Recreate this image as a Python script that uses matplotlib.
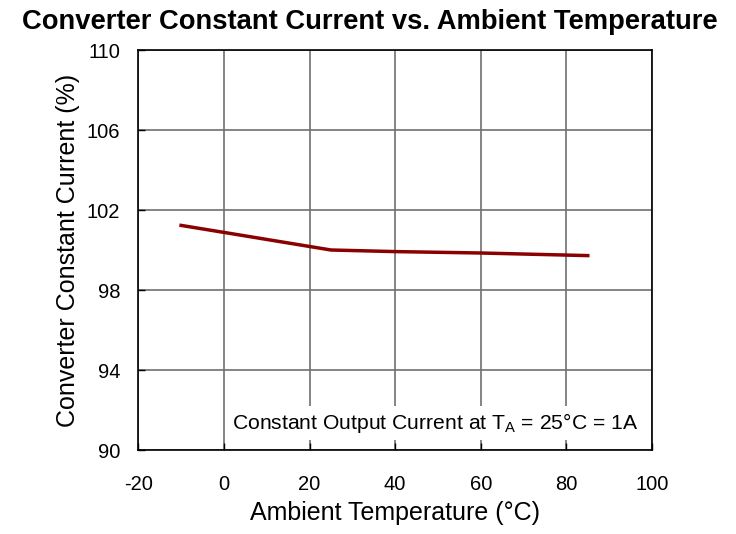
import matplotlib
matplotlib.use("Agg")
import matplotlib.pyplot as plt

temps = [-10, 0, 25, 40, 60, 85]
current = [101.23, 100.88, 100.0, 99.92, 99.85, 99.72]
xticks = [-20, 0, 20, 40, 60, 80, 100]
xticklabels = ['-20', '0', '20', '40', '60', '80', '100']
yticks = [90, 94, 98, 102, 106, 110]

plt.rcParams['font.family'] = ['Liberation Sans', 'DejaVu Sans']
fig = plt.figure(figsize=(7.36, 5.34), dpi=100)
ax = fig.add_axes([138.3/736, 1-450/534, (652-138.3)/736, 400/534])
ax.plot(temps, current, color='#8B0000', lw=2.5, zorder=3)
ax.set_xlim(-20, 100)
ax.set_ylim(90, 110)
ax.set_xticks(xticks)
ax.set_xticklabels(xticklabels)
ax.set_yticks(yticks)
ax.grid(True, color='#707070', lw=1.2)
ax.tick_params(direction='in', length=5, width=1, labelsize=14.5, colors='black')
ax.tick_params(axis='x', pad=18)
ax.tick_params(axis='y', pad=13)
for s in ax.spines.values():
    s.set_linewidth(1.2)
    s.set_color('black')
ax.set_xlabel('Ambient Temperature (°C)', fontsize=18, labelpad=5)
ax.set_ylabel('Converter Constant Current (%)', fontsize=18, labelpad=5)
ax.text(96.75, 91.35, 'Constant Output Current at T$_\\mathregular{A}$ = 25°C = 1A', fontsize=15.2,
        ha='right', va='center', zorder=4,
        bbox=dict(facecolor='white', edgecolor='none', pad=3.5))
fig.text(0.502, 0.959, 'Converter Constant Current vs. Ambient Temperature', fontsize=19.75,
         fontweight='bold', ha='center', va='center')
fig.savefig('out.png', dpi=100)
